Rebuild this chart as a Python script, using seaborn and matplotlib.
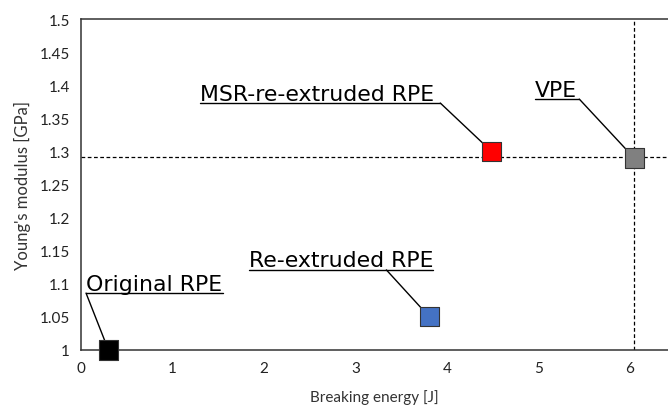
import matplotlib
matplotlib.use("Agg")
import matplotlib.pyplot as plt
import matplotlib.transforms as mtransforms
import seaborn as sns
import pandas as pd

# ---- data ----
materials = ["Original RPE", "Re-extruded RPE", "MSR-re-extruded RPE", "VPE"]
breaking_energy = [0.30, 3.81, 4.49, 6.05]
youngs_modulus = [1.000, 1.050, 1.300, 1.290]
colors = ["#000000", "#4472C4", "#FF0000", "#808080"]
label_x = [0.060, 1.836, 1.30, 4.96]
label_y = [1.086, 1.121, 1.373, 1.379]
leader_x = [0.055, 3.34, 3.93, 5.45]
x_ticks = [0, 1, 2, 3, 4, 5, 6]
y_ticks = [1.0, 1.05, 1.1, 1.15, 1.2, 1.25, 1.3, 1.35, 1.4, 1.45, 1.5]
ref_y = 1.292
ref_x = 6.05

df = pd.DataFrame({"material": materials, "energy": breaking_energy, "modulus": youngs_modulus})

sns.set_style("white")
plt.rcParams["font.family"] = ["Lato", "DejaVu Sans"]

fig = plt.figure(figsize=(6.68, 4.14), dpi=100)
ax = fig.add_axes([81 / 668, 1 - 351 / 414, 1 - 81 / 668, (351 - 20) / 414])

ax.axhline(ref_y, color="black", lw=0.9, ls=(0, (3, 2)), zorder=1)
ax.axvline(ref_x, color="black", lw=0.9, ls=(0, (3, 2)), zorder=1)

sns.scatterplot(data=df, x="energy", y="modulus", hue="material", palette=colors,
                marker="s", s=190, edgecolor="#333333", linewidth=0.8, legend=False,
                ax=ax, zorder=5, clip_on=False)

ax.set_xlim(0, 6.42)
ax.set_ylim(1.0, 1.5)
ax.set_xticks(x_ticks)
ax.set_yticks(y_ticks)
ax.set_xticklabels([f"{v:g}" for v in x_ticks], fontsize=11, color="#222222")
ax.set_yticklabels([f"{v:g}" for v in y_ticks], fontsize=11, color="#222222")
ax.tick_params(length=0, pad=8)
ax.set_xlabel("Breaking energy [J]", fontsize=11, color="#333333", labelpad=10)
ax.set_ylabel("Young's modulus [GPa]", fontsize=12, color="#333333", labelpad=6)
for s in ["left", "bottom", "top"]:
    ax.spines[s].set_color("#333333")
    ax.spines[s].set_linewidth(1.1)
ax.spines["right"].set_visible(False)

fig.canvas.draw()
renderer = fig.canvas.get_renderer()
inv = ax.transData.inverted()
lift = mtransforms.offset_copy(ax.transData, fig=fig, x=0, y=3.5, units="dots")
for name, lx, ly, sx, px, py in zip(materials, label_x, label_y, leader_x,
                                    breaking_energy, youngs_modulus):
    t = ax.text(lx, ly, name, fontsize=15.8, family=["DejaVu Sans"],
                ha="left", va="baseline", color="black", zorder=6, transform=lift)
    bb = t.get_window_extent(renderer)
    x0, _ = inv.transform((bb.x0, bb.y0))
    x1, _ = inv.transform((bb.x1, bb.y0))
    ax.plot([min(x0, sx), max(x1, sx)], [ly, ly], color="black", lw=1.0, zorder=6)
    ax.plot([sx, px], [ly, py], color="black", lw=1.0, zorder=4)

fig.savefig("out.png", dpi=100, facecolor="white")
